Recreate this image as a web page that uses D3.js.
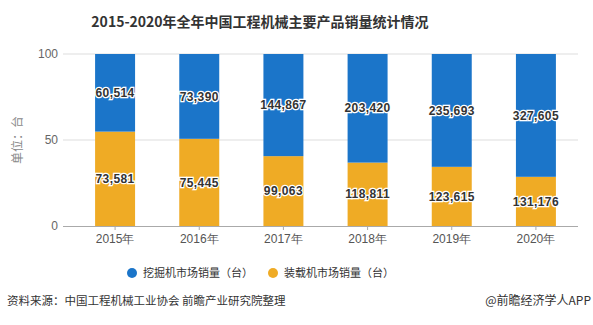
<!DOCTYPE html>
<html>
<head>
<meta charset="utf-8">
<script src="https://cdn.jsdelivr.net/npm/d3@7/dist/d3.min.js"></script>
<style>
  body { margin: 0; background: #fff; }
  svg { display: block; font-family: "Noto Sans CJK SC", "Noto Sans", sans-serif; }
</style>
</head>
<body>
<svg id="chart" width="593" height="325"></svg>
<script>
const years = ["2015年", "2016年", "2017年", "2018年", "2019年", "2020年"];
const excavator = [60514, 73390, 144867, 203420, 235693, 327605];
const loader = [73581, 75445, 99063, 118811, 123615, 131176];
const yTicks = [0, 50, 100];

const seriesNames = ["挖掘机市场销量（台）", "装载机市场销量（台）"];
const colors = { excavator: "#1b75c9", loader: "#efab25" };

const svg = d3.select("#chart");

let dims = {
    width: 593, height: 325,
    margin: { top: 54, bottom: 99, left: 63, right: 15 }
};

// percentage stack: loader at the bottom, excavator on top
let rows = years.map((y, i) => {
    let total = excavator[i] + loader[i];
    return { year: y, loader: loader[i] / total * 100, excavator: excavator[i] / total * 100, i: i };
});
let stack = d3.stack().keys(["loader", "excavator"])(rows);

var x = d3.scaleBand()
    .domain(years)
    .range([73, dims.width - dims.margin.right])
    .paddingInner(0.525)
    .paddingOuter(0.2625);

var y = d3.scaleLinear()
    .domain([0, 100])
    .range([dims.height - dims.margin.bottom, dims.margin.top]);

// Title
svg.append("text")
    .attr("x", 260)
    .attr("y", 27)
    .attr("text-anchor", "middle")
    .attr("font-size", "14px")
    .attr("font-weight", "bold")
    .attr("fill", "#333")
    .text("2015-2020年全年中国工程机械主要产品销量统计情况");

// grid lines
svg.append("g")
    .selectAll("line")
    .data(yTicks.filter(d => d > 0))
    .join("line")
    .attr("x1", dims.margin.left)
    .attr("x2", dims.width - dims.margin.right)
    .attr("y1", d => y(d))
    .attr("y2", d => y(d))
    .attr("stroke", "#ddd")
    .attr("stroke-width", 1);

// Y axis
let yAxis = svg.append("g")
    .attr("transform", "translate(" + dims.margin.left + ",0)")
    .call(d3.axisLeft(y).tickValues(yTicks).tickSize(0).tickPadding(5));
yAxis.select(".domain").remove();
yAxis.selectAll("text")
    .attr("font-size", "12px")
    .attr("fill", "#666")
    .attr("font-family", "\"Liberation Sans\", sans-serif");

svg.append("text")
    .attr("transform", "translate(22," + ((y(0) + y(100)) / 2) + ") rotate(-90)")
    .attr("text-anchor", "middle")
    .attr("font-size", "12px")
    .attr("fill", "#888")
    .text("单位：台");

// bars
svg.append("g")
    .selectAll("g")
    .data(stack)
    .join("g")
    .attr("fill", d => colors[d.key])
    .selectAll("rect")
    .data(d => d)
    .join("rect")
    .attr("x", d => x(d.data.year))
    .attr("width", x.bandwidth())
    .attr("y", d => y(d[1]))
    .attr("height", d => y(d[0]) - y(d[1]));

// X axis
let xAxis = svg.append("g")
    .attr("transform", "translate(0," + y(0) + ")")
    .call(d3.axisBottom(x).tickSize(4).tickPadding(4));
xAxis.select(".domain")
    .attr("d", "M" + dims.margin.left + ",0.5H" + (dims.width - dims.margin.right))
    .attr("stroke", "#aaa");
xAxis.selectAll(".tick line").attr("stroke", "#aaa");
xAxis.selectAll("text")
    .attr("font-size", "12px")
    .attr("fill", "#555");

// value labels
let fmt = d3.format(",");
let labelData = [];
stack.forEach(s => {
    let vals = s.key == "loader" ? loader : excavator;
    s.forEach((d, i) => labelData.push({ x: x(d.data.year) + x.bandwidth() / 2, y: y((d[0] + d[1]) / 2), v: vals[i] }));
});
svg.append("g")
    .selectAll("text")
    .data(labelData)
    .join("text")
    .attr("x", d => d.x)
    .attr("y", d => d.y)
    .attr("dy", "0.35em")
    .attr("text-anchor", "middle")
    .attr("font-size", "12px")
    .attr("font-weight", "bold")
    .attr("letter-spacing", "0.4px")
    .attr("font-family", "\"Liberation Sans\", sans-serif")
    .attr("fill", "#333")
    .attr("stroke", "#fff")
    .attr("stroke-width", 2.5)
    .attr("paint-order", "stroke")
    .text(d => fmt(d.v));

// legend
let legend = svg.append("g")
    .selectAll("g")
    .data(seriesNames)
    .join("g")
    .attr("transform", (d, i) => "translate(" + (132 + i * 141) + ",273)");
legend.append("circle")
    .attr("r", 5)
    .attr("fill", (d, i) => i == 0 ? colors.excavator : colors.loader);
legend.append("text")
    .attr("x", 11)
    .attr("dy", "0.35em")
    .attr("font-size", "11px")
    .attr("fill", "#333")
    .text(d => d);

// footer
svg.append("text")
    .attr("x", 7)
    .attr("y", 305)
    .attr("font-size", "11.5px")
    .attr("fill", "#333")
    .text("资料来源：中国工程机械工业协会 前瞻产业研究院整理");

svg.append("text")
    .attr("x", 591)
    .attr("y", 305)
    .attr("text-anchor", "end")
    .attr("font-size", "12px")
    .attr("fill", "#333")
    .text("@前瞻经济学人APP");
</script>
</body>
</html>
